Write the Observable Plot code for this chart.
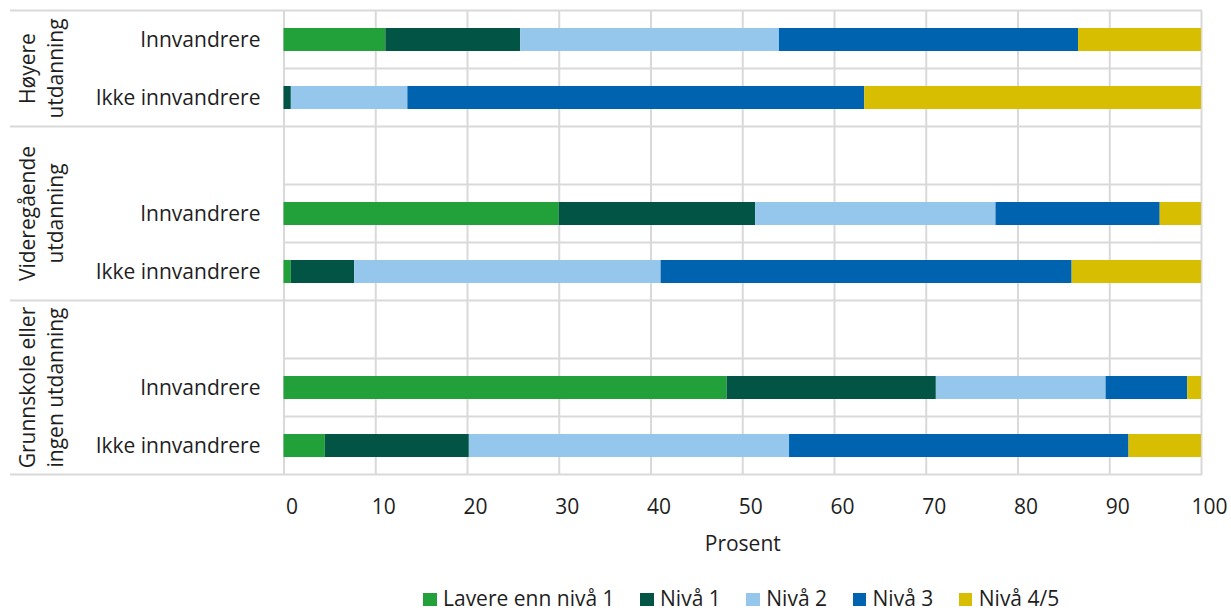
<!DOCTYPE html>
<html>
<head>
<meta charset="utf-8">
<script src="https://cdn.jsdelivr.net/npm/d3@7"></script>
<script src="https://cdn.jsdelivr.net/npm/@observablehq/plot@0.6"></script>
<style>
  body { margin: 0; background: #fff; font-family: "Open Sans", sans-serif; color: #1e1e1e; }
  #chart svg { display: block; }
  .legend { padding-left: 423px; font-size: 21px; line-height: 20px; white-space: nowrap; height: 20px; }
  .legend .sw { display: inline-block; width: 13.5px; height: 13.5px; margin-right: 6.5px; vertical-align: baseline; }
  .legend .item { margin-right: 25.5px; }
</style>
</head>
<body>
<div id="chart"></div>
<script>
// ---- data ----
const groupLabels = ["Høyere\nutdanning", "Videregående\nutdanning", "Grunnskole eller\ningen utdanning"];
const rowKeys = ["h-innv", "h-ikke", "v-tom", "v-innv", "v-ikke", "g-tom", "g-innv", "g-ikke"];
const rowLabels = ["Innvandrere", "Ikke innvandrere", "", "Innvandrere", "Ikke innvandrere", "", "Innvandrere", "Ikke innvandrere"];
const rowGroup = [0, 0, 1, 1, 1, 2, 2, 2];
const levels = ["Lavere enn nivå 1", "Nivå 1", "Nivå 2", "Nivå 3", "Nivå 4/5"];
const levelColors = ["#22a03a", "#025544", "#95c7ec", "#0063af", "#d8be00"];
const lavere = [11.1, 0.0, null, 30.0, 0.8, null, 48.3, 4.5];
const niva1  = [14.7, 0.8, null, 21.4, 6.9, null, 22.8, 15.7];
const niva2  = [28.2, 12.7, null, 26.2, 33.4, null, 18.5, 34.9];
const niva3  = [32.6, 49.8, null, 17.9, 44.8, null, 8.9, 37.0];
const niva45 = [13.4, 36.7, null, 4.5, 14.1, null, 1.5, 7.9];
const xTicks = [0, 10, 20, 30, 40, 50, 60, 70, 80, 90, 100];
const xLabel = "Prosent";

// ---- long table ----
const series = [lavere, niva1, niva2, niva3, niva45];
const data = [];
rowKeys.forEach((row, i) => {
  series.forEach((s, j) => {
    if (s[i] != null) data.push({row, level: levels[j], value: s[i]});
  });
});
const labelOf = Object.fromEntries(rowKeys.map((k, i) => [k, rowLabels[i]]));

const gridColor = "#d9d9d9";
const plot = Plot.plot({
  width: 1231,
  height: 588,
  marginTop: 11,
  marginBottom: 113,
  marginLeft: 283.5,
  marginRight: 30,
  style: {fontFamily: '"Open Sans", sans-serif', fontSize: "21px", color: "#1e1e1e", background: "#fff", overflow: "visible"},
  x: {domain: [0, 100], label: null, axis: null},
  y: {domain: rowKeys, paddingInner: 0.6, paddingOuter: 0.3, label: null, axis: null},
  color: {domain: levels, range: levelColors},
  marks: [
    Plot.ruleX(xTicks, {x: d => d, stroke: gridColor, strokeWidth: 2}),
    Plot.barX(data, {x: "value", y: "row", fill: "level"}),
    Plot.axisX(xTicks, {tickSize: 0, tickPadding: 24, dx: 8, fontSize: 21, label: null, tickFormat: d => String(d)}),
    Plot.axisY({tickSize: 0, tickPadding: 23.5, fontSize: 21, label: null, tickFormat: k => labelOf[k]}),
    Plot.text([xLabel], {frameAnchor: "bottom", lineAnchor: "middle", dy: 69, text: d => d, fontSize: 21, fill: "currentColor"})
  ]
});
document.getElementById("chart").appendChild(plot);

// ---- band boundary lines and group labels from the y scale ----
const svg = d3.select(plot);
const ys = plot.scale("y"), xs = plot.scale("x");
const gap = (ys.step - ys.bandwidth) / 2;
const xa = xs.apply(0), xb = xs.apply(100);
const tops = rowKeys.map(k => ys.apply(k) - gap);
const bottom = ys.apply(rowKeys[rowKeys.length - 1]) + ys.bandwidth + gap;
const lines = svg.append("g").attr("stroke", gridColor).attr("stroke-width", 2);
const groupEdges = [];
rowKeys.forEach((k, i) => {
  const isGroupStart = i === 0 || rowGroup[i] !== rowGroup[i - 1];
  if (isGroupStart) groupEdges.push(tops[i]);
  lines.append("line").attr("x1", isGroupStart ? 10 : xa).attr("x2", xb + 1).attr("y1", tops[i]).attr("y2", tops[i]);
});
groupEdges.push(bottom);
lines.append("line").attr("x1", 10).attr("x2", xb + 1).attr("y1", bottom).attr("y2", bottom);

const gl = svg.append("g").attr("font-size", 21).attr("fill", "#1e1e1e").attr("text-anchor", "middle");
groupLabels.forEach((lab, g) => {
  const cy = (groupEdges[g] + groupEdges[g + 1]) / 2;
  const t = gl.append("text").attr("transform", `translate(42.3,${cy}) rotate(-90)`);
  const parts = lab.split("\n");
  parts.forEach((p, j) => {
    t.append("tspan").attr("x", 0).attr("dy", j === 0 ? "-0.345em" : "1.33em").text(p);
  });
});

// ---- legend ----
const legend = d3.select("body").append("div").attr("class", "legend");
levels.forEach((lv, i) => {
  const it = legend.append("span").attr("class", "item");
  it.append("span").attr("class", "sw").style("background", levelColors[i]);
  it.append("span").text(lv);
});
</script>
</body>
</html>
